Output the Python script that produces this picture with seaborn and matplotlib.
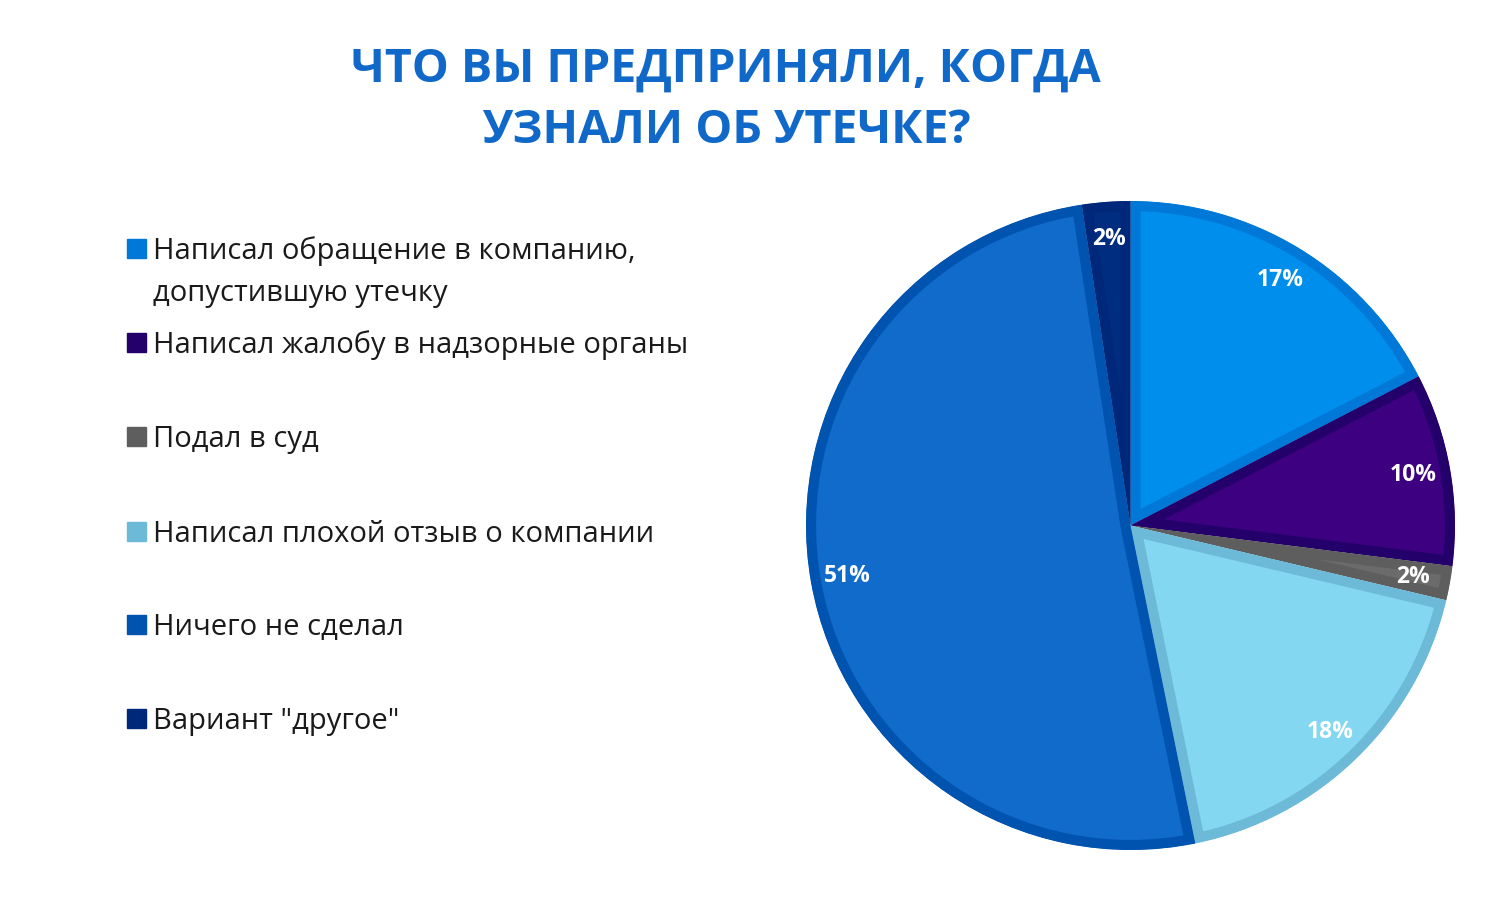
import matplotlib
matplotlib.use("Agg")
import matplotlib.pyplot as plt
import matplotlib.patches as mpatches
import numpy as np
import seaborn as sns

labels = [
    "Написал обращение в компанию,\nдопустившую утечку",
    "Написал жалобу в надзорные органы",
    "Подал в суд",
    "Написал плохой отзыв о компании",
    "Ничего не сделал",
    "Вариант \"другое\"",
]
shares = [17.4, 9.6, 1.7, 18.1, 50.8, 2.4]
shown = ["17%", "10%", "2%", "18%", "51%", "2%"]
fills = ["#008EEC", "#3C0080", "#6B6B6B", "#84D7F1", "#106BCB", "#002D80"]
edges = ["#0078D7", "#24006A", "#5E5E5E", "#6CB9D8", "#0053AE", "#00287A"]
title = ["ЧТО ВЫ ПРЕДПРИНЯЛИ, КОГДА", "УЗНАЛИ ОБ УТЕЧКЕ?"]

sns.set_theme(style="white")
plt.rcParams["font.family"] = ["Open Sans", "DejaVu Sans"]

W, H = 1500, 916
fig = plt.figure(figsize=(W / 100, H / 100), dpi=100)
fig.patch.set_facecolor("white")

cx, cy, r = 1130.5, 525.5, 324.5
ax = fig.add_axes([(cx - r) / W, (H - cy - r) / H, 2 * r / W, 2 * r / H])

wedges, _ = ax.pie(shares, colors=fills, startangle=90, counterclock=False,
                   radius=1.0, wedgeprops=dict(linewidth=14.5))
ax.set_xlim(-1, 1)
ax.set_ylim(-1, 1)
ax.set_aspect("equal")
ax.axis("off")
# inner border: stroke clipped to the wedge itself
for w, ec in zip(wedges, edges):
    w.set_edgecolor(ec)
    w.set_clip_path(w.get_path(), w.get_transform())
    w.set_clip_on(True)

ang = 90.0
for s, txt in zip(shares, shown):
    mid = ang - s * 3.6 / 2
    ang -= s * 3.6
    a = np.deg2rad(mid)
    ax.text(0.885 * np.cos(a), 0.885 * np.sin(a), txt, ha="center", va="center",
            color="white", fontsize=16.5, fontweight="bold")

for i, line in enumerate(title):
    fig.text(726 / W, 1 - (82 + 61 * i) / H, line, ha="center", va="baseline",
             color="#1068C8", fontsize=33.5, fontweight="bold")

# legend drawn by hand to keep the original's uneven row layout
rows = [248, 342, 436, 531, 624, 718]
for y, lab, c in zip(rows, labels, edges):
    fig.patches.append(mpatches.Rectangle((127 / W, 1 - (y + 9.5) / H), 19 / W, 19 / H,
                                          transform=fig.transFigure, color=c))
    for j, part in enumerate(lab.split("\n")):
        fig.text(153 / W, 1 - (y + 11 + 42 * j) / H, part, ha="left", va="baseline",
                 color="#1A1A1A", fontsize=21)

fig.savefig("out.png", dpi=100, facecolor="white")
